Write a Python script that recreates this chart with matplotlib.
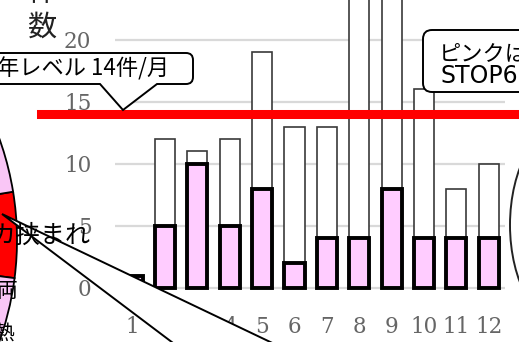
import matplotlib
matplotlib.use("Agg")
import matplotlib.pyplot as plt
from matplotlib.path import Path
from matplotlib.patches import PathPatch, Polygon, Ellipse

# ---------------- data ----------------
months = [1, 2, 3, 4, 5, 6, 7, 8, 9, 10, 11, 12]
month_labels = ["1", "2", "3", "4", "5", "6", "7", "8", "9", "10", "11", "12"]
total_counts = [1, 12, 11, 12, 19, 13, 13, 25, 24, 16, 8, 10]
pink_counts = [1, 5, 10, 5, 8, 2, 4, 4, 8, 4, 4, 4]
target_level = 14
y_ticks = [0, 5, 10, 15, 20]
pie_values = [4.6, 20.0, 60.0, 15.4]          # red slice first (挟まれ)
pie_colors = ["#ff0000", "#f9c6f6", "#f9c6f6", "#f9c6f6"]
callout_left = "年レベル 14件/月"
callout_right = "ピンクは\nSTOP6"
pie_label = "カ挟まれ"

W, H = 519, 342
fig = plt.figure(figsize=(W / 100, H / 100), dpi=100)
fig.patch.set_facecolor("white")

def fx(px):
    return px / W

def fy(py):
    return 1 - py / H

JP = ["Noto Sans CJK JP", "DejaVu Sans"]

# ---------------- pie fragment (left) ----------------
cx, cy, r = -283, 240, 300
pax = fig.add_axes([fx(cx - r), fy(cy + r), 2 * r / W, 2 * r / H])
pax.pie(pie_values, colors=pie_colors, startangle=-7.3, counterclock=True,
        wedgeprops=dict(edgecolor="black", linewidth=1.3))
pax.set_xlim(-1, 1)
pax.set_ylim(-1, 1)
pax.set_aspect("auto")
pax.axis("off")

# ---------------- main bar axes ----------------
y_top, y_bot = 0.0, 295.5
ppu = 12.42
ylim_top = (288 - y_top) / ppu
ylim_bot = -(y_bot - 288) / ppu
ax = fig.add_axes([fx(115), fy(y_bot), 390 / W, (y_bot - y_top) / H])
ax.set_facecolor("none")
ax.set_xlim(0.457, 12.5)
ax.set_ylim(ylim_bot, ylim_top)
for s in ax.spines.values():
    s.set_visible(False)
ax.set_yticks(y_ticks)
ax.set_xticks(months)
ax.set_xticklabels(month_labels)
ax.yaxis.grid(True, color="#d9d9d9", linewidth=1.6)
ax.set_axisbelow(True)
ax.tick_params(axis="both", length=0, colors="#666666", labelsize=15.5)
ax.tick_params(axis="y", pad=17)
ax.tick_params(axis="x", pad=15)
for lab in ax.get_xticklabels() + ax.get_yticklabels():
    lab.set_family("DejaVu Serif")

ax.bar(months, total_counts, width=0.62, facecolor="white",
       edgecolor="#3a3a3a", linewidth=1.2, zorder=2)
ax.bar(months, pink_counts, width=0.62, facecolor="#ffccff",
       edgecolor="black", linewidth=2.8, zorder=3)
ax.axhline(target_level, xmin=-0.19, xmax=1.1, color="#ff0000",
           linewidth=6.5, clip_on=False, zorder=4)

# ---------------- helpers ----------------
def bubble(x0, y0, x1, y1, rr, pointer=None, **kw):
    pts = [(x0 + rr, y0), (x1 - rr, y0), (x1, y0), (x1, y0 + rr),
           (x1, y1 - rr), (x1, y1), (x1 - rr, y1)]
    codes = [Path.MOVETO, Path.LINETO, Path.CURVE3, Path.CURVE3,
             Path.LINETO, Path.CURVE3, Path.CURVE3]
    if pointer is not None:
        bx0, bx1, tx, ty = pointer
        pts += [(bx1, y1), (tx, ty), (bx0, y1)]
        codes += [Path.LINETO] * 3
    pts += [(x0 + rr, y1), (x0, y1), (x0, y1 - rr), (x0, y0 + rr),
            (x0, y0), (x0 + rr, y0), (x0 + rr, y0)]
    codes += [Path.LINETO, Path.CURVE3, Path.CURVE3, Path.LINETO,
              Path.CURVE3, Path.CURVE3, Path.CLOSEPOLY]
    verts = [(fx(a), fy(b)) for a, b in pts]
    p = PathPatch(Path(verts, codes), transform=fig.transFigure, **kw)
    fig.patches.append(p)
    return p

# ---------------- callouts ----------------
tri = Polygon([(fx(2), fy(214)), (fx(195.6), fy(360)), (fx(308), fy(360))],
              closed=True, facecolor="white", edgecolor="black",
              linewidth=1.4, transform=fig.transFigure, zorder=5)
fig.patches.append(tri)

bubble(-20, 53, 193, 84, 7, pointer=(100, 157, 123, 110),
       facecolor="white", edgecolor="black", linewidth=1.4, zorder=6)
fig.text(fx(-3), fy(69), callout_left, family=JP, fontsize=16,
         ha="left", va="center", color="black", zorder=7)

bubble(423, 30, 580, 92, 9, facecolor="white", edgecolor="black",
       linewidth=1.4, zorder=6)
line1, line2 = callout_right.split("\n")
fig.text(fx(439), fy(54), line1, family=JP, fontsize=16,
         ha="left", va="center", color="black", zorder=7)
fig.text(fx(441), fy(76), line2, family=["DejaVu Sans"], fontsize=17,
         ha="left", va="center", color="black", zorder=7)

ell = Ellipse((fx(570), fy(225)), 120 / W, 208 / H, facecolor="white",
              edgecolor="#222222", linewidth=1.4,
              transform=fig.transFigure, zorder=5)
fig.patches.append(ell)

# ---------------- texts ----------------
fig.text(fx(-10), fy(236), pie_label, family=JP, fontsize=18,
         ha="left", va="center", color="black", zorder=8)
fig.text(fx(18), fy(291), "両", family=JP, fontsize=15,
         ha="right", va="center", color="black", zorder=8)
fig.text(fx(14), fy(334), "熱", family=JP, fontsize=15,
         ha="right", va="center", color="black", zorder=8)
fig.text(fx(42), fy(28), "数", family=JP, fontsize=21,
         ha="center", va="center", color="#222222", zorder=8)
fig.text(fx(42), fy(-7), "件", family=JP, fontsize=21,
         ha="center", va="center", color="#222222", zorder=8)

fig.savefig("out.png", dpi=100, facecolor="white")
